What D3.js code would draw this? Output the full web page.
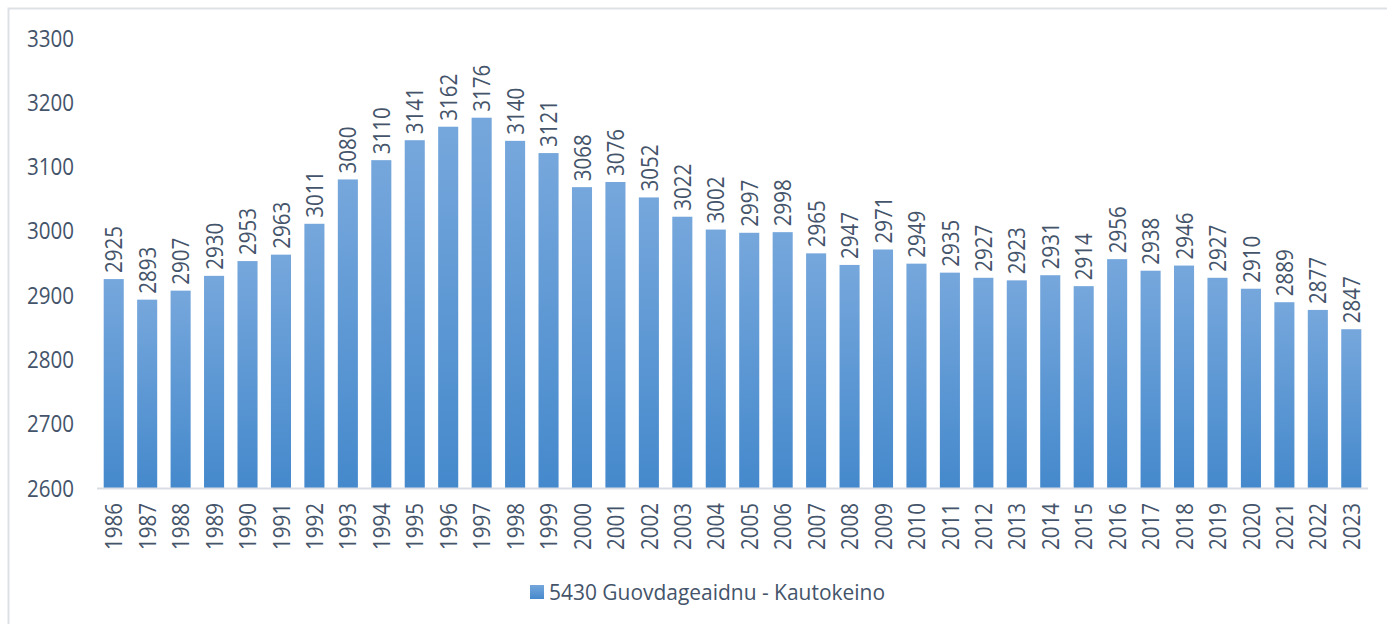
<!DOCTYPE html>
<html>
<head>
<meta charset="utf-8">
<script src="https://cdn.jsdelivr.net/npm/d3@7"></script>
<style>
	body { margin: 0; background: #fff; }
	svg text { font-family: "Open Sans", "Liberation Sans", sans-serif; fill: #44546a; }
</style>
</head>
<body>
<div id="chart"></div>
<script>
var years = ["1986","1987","1988","1989","1990","1991","1992","1993","1994","1995",
	"1996","1997","1998","1999","2000","2001","2002","2003","2004","2005",
	"2006","2007","2008","2009","2010","2011","2012","2013","2014","2015",
	"2016","2017","2018","2019","2020","2021","2022","2023"];
var population = [2925, 2893, 2907, 2930, 2953, 2963, 3011, 3080, 3110, 3141,
	3162, 3176, 3140, 3121, 3068, 3076, 3052, 3022, 3002, 2997,
	2998, 2965, 2947, 2971, 2949, 2935, 2927, 2923, 2931, 2914,
	2956, 2938, 2946, 2927, 2910, 2889, 2877, 2847];
var yTicks = [2600, 2700, 2800, 2900, 3000, 3100, 3200, 3300];
var seriesName = "5430 Guovdageaidnu - Kautokeino";

(function () {
	var width = 1387,
		height = 624;
	var numLen = 47; // narrow Calibri-like numbers

	var svg = d3.select("#chart").append("svg")
		.attr("width", width)
		.attr("height", height);

	var defs = svg.append("defs");
	var grad = defs.append("linearGradient").attr("id", "barfill")
		.attr("x1", 0).attr("y1", 0).attr("x2", 0).attr("y2", 1);
	grad.append("stop").attr("offset", "0%").attr("stop-color", "#76a7dc");
	grad.append("stop").attr("offset", "100%").attr("stop-color", "#4589cc");

	// chart area border
	svg.append("rect").attr("x", 8.5).attr("y", 8.5)
		.attr("width", 1385).attr("height", 640)
		.attr("fill", "none").attr("stroke", "#dde1e6").attr("stroke-width", 2);

	var x = d3.scaleBand().domain(years).range([97, 1368])
		.paddingInner(0.4).paddingOuter(0.2);
	var y = d3.scaleLinear().domain([2600, 3300]).range([488, 38]);

	// y tick labels
	svg.selectAll(".ytick").data(yTicks)
		.enter().append("text").attr("class", "ytick")
			.attr("x", 74)
			.attr("y", function (d) { return y(d); })
			.attr("dy", "0.36em")
			.attr("text-anchor", "end")
			.attr("textLength", numLen).attr("lengthAdjust", "spacingAndGlyphs")
			.style("font-size", "24px")
			.text(function (d) { return d; });

	svg.selectAll(".bar").data(population)
		.enter().append("rect").attr("class", "bar")
			.attr("x", function (d, i) { return x(years[i]); })
			.attr("y", function (d) { return y(d); })
			.attr("width", x.bandwidth())
			.attr("height", function (d) { return y(2600) - y(d); })
			.attr("fill", "url(#barfill)");

	// baseline
	svg.append("line").attr("x1", 97).attr("x2", 1368)
		.attr("y1", y(2600) + 0.5).attr("y2", y(2600) + 0.5)
		.attr("stroke", "#d9dde3").attr("stroke-width", 2);

	// value labels
	svg.selectAll(".vlabel").data(population)
		.enter().append("text").attr("class", "vlabel")
			.attr("transform", function (d, i) {
				return "translate(" + (x(years[i]) + x.bandwidth() / 2) + "," + (y(d) - 6) + ") rotate(-90)";
			})
			.attr("dy", "0.36em")
			.attr("text-anchor", "start")
			.attr("textLength", numLen).attr("lengthAdjust", "spacingAndGlyphs")
			.style("font-size", "24px")
			.text(function (d) { return d; });

	// year labels
	svg.selectAll(".xlabel").data(years)
		.enter().append("text").attr("class", "xlabel")
			.attr("transform", function (d) {
				return "translate(" + (x(d) + x.bandwidth() / 2) + ",503) rotate(-90)";
			})
			.attr("dy", "0.36em")
			.attr("text-anchor", "end")
			.attr("textLength", numLen).attr("lengthAdjust", "spacingAndGlyphs")
			.style("font-size", "24px")
			.text(function (d) { return d; });

	// legend
	svg.append("rect").attr("x", 530).attr("y", 585)
		.attr("width", 14).attr("height", 14)
		.attr("fill", "url(#barfill)");
	svg.append("text").attr("x", 549).attr("y", 600)
		.attr("textLength", 336).attr("lengthAdjust", "spacingAndGlyphs")
		.style("font-size", "21px")
		.text(seriesName);
})();
</script>
</body>
</html>
